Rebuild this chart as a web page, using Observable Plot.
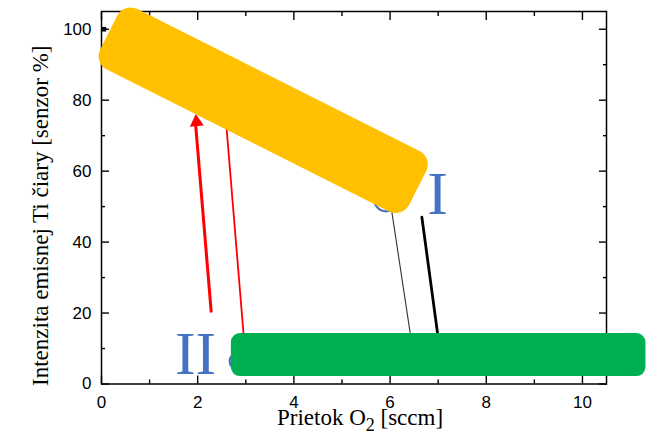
<!DOCTYPE html>
<html><head><meta charset="utf-8">
<script src="https://cdn.jsdelivr.net/npm/d3@7"></script>
<script src="https://cdn.jsdelivr.net/npm/@observablehq/plot@0.6"></script>
<style>
body{margin:0;background:#fff}
#chart svg g[aria-label$="tick label"]{font-size:17px;font-family:"Liberation Sans",Arial,sans-serif}
</style>
</head><body><div id="chart"></div>
<script>
// Axis ticks
const xTicks = [0, 2, 4, 6, 8, 10];
const xMinor = [1, 3, 5, 7, 9];
const yTicks = [0, 20, 40, 60, 80, 100];
const yMinor = [10, 30, 50, 70, 90];

// Visible curve segments (x: O2 flow [sccm], y: intensity [%])
const redThick = [{x: 2.28, y: 20.5}, {x: 1.96, y: 72.6}];
const redThin = [{x: 2.587, y: 74.3}, {x: 2.973, y: 10.9}];
const blackThin = [{x: 5.969, y: 54.6}, {x: 6.457, y: 10.9}];
const blackThick = [{x: 6.661, y: 47.05}, {x: 7.021, y: 10.9}];
const arrowHead = [{x: 1.975, y: 73.85}];
const markerCircles = [{x: 5.919, y: 52.05, r: 12}, {x: 2.852, y: 6.35, r: 9}];
const cornerPoint = [{x: 0.05, y: 100}];

// Highlight boxes (data coordinates)
const yellowBox = [{x: 0.605, y: 101.9}, {x: 6.472, y: 61.9}, {x: 6.118, y: 52.4}, {x: 0.252, y: 92.4}];
const greenBox = [{x1: 2.70, x2: 11.32, y1: 2.1, y2: 14.2}];

// Region labels
const regionLabels = [{x: 6.99, y: 48.0, text: "I"}, {x: 1.955, y: 2.88, text: "II"}];

const xTitle = "Prietok O2 [sccm]";
const yTitle = "Intenzita emisnej Ti čiary [senzor %]";

const sans = "Liberation Sans, Arial, sans-serif";
const serif = "Liberation Serif, Times New Roman, serif";
const blank = () => "";

const chart = Plot.plot({
  width: 662,
  height: 437,
  marginLeft: 101,
  marginRight: 56,
  marginTop: 11,
  marginBottom: 53.5,
  style: {fontFamily: sans, fontSize: "17px", color: "black", background: "white"},
  x: {domain: [0, 10.5]},
  y: {domain: [0, 105]},
  r: {type: "identity"},
  marks: [
    // tick labels
    Plot.axisX({anchor: "bottom", ticks: xTicks, tickSize: 0, tickPadding: 12, fontSize: 17, fontFamily: sans, label: null}),
    Plot.axisY({anchor: "left", ticks: yTicks, tickSize: 0, tickPadding: 10, fontSize: 17, fontFamily: sans, label: null}),
    // inward tick marks
    Plot.axisX({anchor: "bottom", ticks: xTicks, tickSize: -8, tickFormat: blank, strokeWidth: 1.4, label: null}),
    Plot.axisX({anchor: "bottom", ticks: xMinor, tickSize: -4, tickFormat: blank, strokeWidth: 1.4, label: null}),
    Plot.axisX({anchor: "top", ticks: xTicks, tickSize: -8, tickFormat: blank, strokeWidth: 1.4, label: null}),
    Plot.axisX({anchor: "top", ticks: xMinor, tickSize: -4, tickFormat: blank, strokeWidth: 1.4, label: null}),
    Plot.axisY({anchor: "left", ticks: yTicks, tickSize: -8, tickFormat: blank, strokeWidth: 1.4, label: null}),
    Plot.axisY({anchor: "left", ticks: yMinor, tickSize: -4, tickFormat: blank, strokeWidth: 1.4, label: null}),
    Plot.axisY({anchor: "right", ticks: yTicks, tickSize: -8, tickFormat: blank, strokeWidth: 1.4, label: null}),
    Plot.axisY({anchor: "right", ticks: yMinor, tickSize: -4, tickFormat: blank, strokeWidth: 1.4, label: null}),
    Plot.frame({stroke: "black", strokeWidth: 1.5}),
    // axis titles
    Plot.text([xTitle], {frameAnchor: "bottom", dy: 40.5, dx: 6, lineAnchor: "bottom", textAnchor: "middle", fontSize: 23, fontFamily: serif, fill: "black"}),
    Plot.text([yTitle], {frameAnchor: "left", rotate: -90, dx: -54, dy: 18, lineAnchor: "bottom", textAnchor: "middle", fontSize: 23, fontFamily: serif, fill: "black"}),
    // data
    Plot.dot(cornerPoint, {x: "x", y: "y", symbol: "square", r: 2.6, fill: "black"}),
    Plot.dot(markerCircles, {x: "x", y: "y", r: "r", stroke: "#4472C4", strokeWidth: 2.2, fill: "none"}),
    Plot.line(blackThin, {x: "x", y: "y", stroke: "#333", strokeWidth: 1.1}),
    Plot.line(blackThick, {x: "x", y: "y", stroke: "black", strokeWidth: 2.8}),
    Plot.line(redThin, {x: "x", y: "y", stroke: "#FF0000", strokeWidth: 1.8}),
    Plot.line(redThick, {x: "x", y: "y", stroke: "#FF0000", strokeWidth: 3}),
    Plot.dot(arrowHead, {x: "x", y: "y", symbol: "triangle", r: 5.2, fill: "#FF0000", stroke: "none", rotate: -4.9}),
    // highlight boxes
    Plot.line(yellowBox, {x: "x", y: "y", curve: "linear-closed", fill: "#FFC000", stroke: "#FFC000", strokeWidth: 30, strokeLinejoin: "round"}),
    Plot.rect(greenBox, {x1: "x1", x2: "x2", y1: "y1", y2: "y2", fill: "#00B050", rx: 9}),
    // labels
    Plot.text(regionLabels, {x: "x", y: "y", text: "text", fontSize: 62, fontFamily: serif, fill: "#4472C4", lineAnchor: "bottom", textAnchor: "middle"})
  ]
});

// subscript in x title
chart.querySelectorAll("text").forEach(t => {
  if (t.textContent === xTitle) {
    t.textContent = "";
    const ns = "http://www.w3.org/2000/svg";
    const a = document.createElementNS(ns, "tspan"); a.textContent = "Prietok O";
    const b = document.createElementNS(ns, "tspan"); b.textContent = "2"; b.setAttribute("dy", "6"); b.setAttribute("font-size", "18");
    const c = document.createElementNS(ns, "tspan"); c.textContent = " [sccm]"; c.setAttribute("dy", "-6");
    t.append(a, b, c);
  }
});

document.getElementById("chart").append(chart);
</script>
</body></html>
